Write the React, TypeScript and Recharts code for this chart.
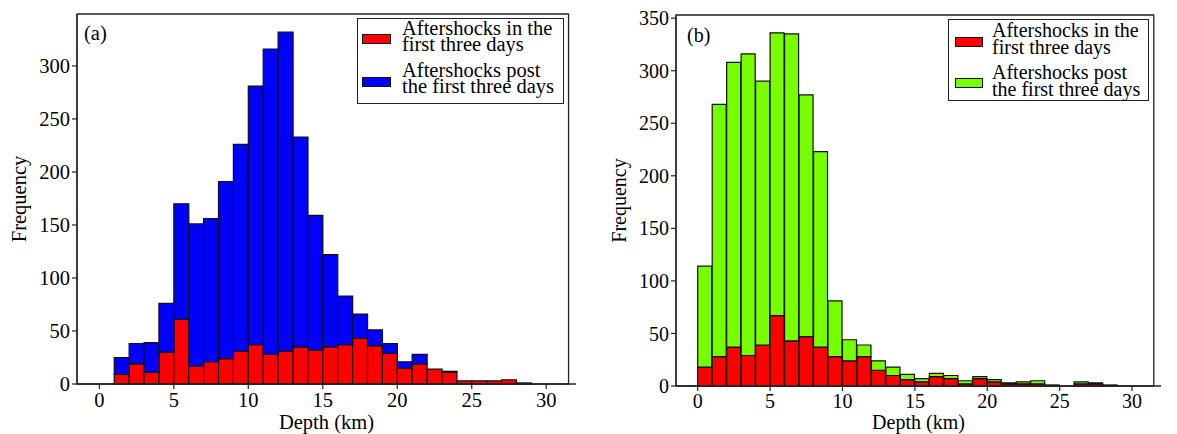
import React from 'react';
import { BarChart, Bar, XAxis, YAxis, ReferenceArea, Legend } from 'recharts';

// Depth bin centres (km), 1 km bins from 0 to 30
const depthCenters = [0.5, 1.5, 2.5, 3.5, 4.5, 5.5, 6.5, 7.5, 8.5, 9.5, 10.5, 11.5, 12.5, 13.5, 14.5, 15.5, 16.5, 17.5, 18.5, 19.5, 20.5, 21.5, 22.5, 23.5, 24.5, 25.5, 26.5, 27.5, 28.5, 29.5];
const depthTicks = [0, 5, 10, 15, 20, 25, 30];

// Panel (a)
const panelAFirstThreeDays = [0, 9, 19, 11, 30, 61, 17, 21, 24, 31, 37, 28, 31, 35, 32, 35, 37, 43, 36, 29, 15, 19, 14, 11, 3, 3, 3, 4, 1, 0];
const panelATotal = [0, 25, 38, 39, 76, 170, 151, 156, 191, 226, 281, 316, 332, 233, 159, 122, 83, 66, 51, 38, 21, 28, 14, 12, 3, 3, 3, 4, 1, 0];
const panelAFreqTicks = [0, 50, 100, 150, 200, 250, 300];

// Panel (b)
const panelBFirstThreeDays = [18, 28, 37, 29, 39, 67, 43, 47, 37, 28, 24, 28, 15, 10, 6, 4, 9, 7, 2, 7, 4, 2, 2, 2, 1, 0, 2, 2, 1, 0];
const panelBTotal = [114, 268, 308, 316, 290, 336, 335, 277, 223, 81, 44, 39, 24, 18, 11, 7, 12, 10, 5, 9, 6, 3, 4, 5, 1, 0, 4, 3, 1, 0];
const panelBFreqTicks = [0, 50, 100, 150, 200, 250, 300, 350];

const seriesFirstName = 'Aftershocks in the\nfirst three days';
const seriesPostName = 'Aftershocks post\nthe first three days';

const FONT = '"Liberation Serif", "Times New Roman", serif';

function buildRows(first: number[], total: number[]) {
  return depthCenters.map((d, i) => ({ depth: d, first: first[i], post: total[i] - first[i] }));
}

type Cfg = {
  left: number; width: number; height: number;
  margin: { top: number; right: number; bottom: number; left: number };
  xAxisHeight: number; yAxisWidth: number;
  fs: number; yMax: number; yTicks: number[];
  postColor: string; panelLabel: string; panelDx: number; panelDy: number;
  yLabelDx: number; xLabelOffset: number;
  legend: { left: number; top: number; w: number; h: number; lh: number; swLeft: number; swW: number; swH: number; swTops: number[]; txLeft: number; txTops: number[] };
};

const colors: Record<string, string> = {};

function Panel({ cfg, rows }: { cfg: Cfg; rows: any[] }) {
  const lg = cfg.legend;
  const legendContent = (props: any) => {
    const payload = (props.payload || []).slice();
    const order = [seriesFirstName, seriesPostName];
    payload.sort((a: any, b: any) => order.indexOf(a.value) - order.indexOf(b.value));
    return (
      <div style={{ position: 'relative', width: lg.w, height: lg.h, border: '1.3px solid #222', background: '#fff', boxSizing: 'border-box', fontFamily: FONT, fontSize: cfg.fs, lineHeight: lg.lh + 'px', color: '#000' }}>
        {payload.map((p: any, i: number) => (
          <React.Fragment key={i}>
            <div style={{ position: 'absolute', left: lg.swLeft, top: lg.swTops[i], width: lg.swW, height: lg.swH, background: p.value === seriesFirstName ? '#FF0000' : cfg.postColor, border: '1.2px solid #111', boxSizing: 'border-box' }} />
            <div style={{ position: 'absolute', left: lg.txLeft, top: lg.txTops[i], whiteSpace: 'pre' }}>{p.value}</div>
          </React.Fragment>
        ))}
      </div>
    );
  };
  const yLabel = (props: any) => {
    const vb = props.viewBox || {};
    const cx = vb.x + cfg.yLabelDx;
    const cy = vb.y + vb.height / 2;
    return (
      <text x={cx} y={cy} transform={`rotate(-90 ${cx} ${cy})`} textAnchor="middle" fontSize={cfg.fs} fontFamily={FONT} fill="#000">Frequency</text>
    );
  };
  const panelLabel = (props: any) => {
    const vb = props.viewBox || {};
    return (
      <text x={vb.x + cfg.panelDx} y={vb.y + cfg.panelDy} fontSize={cfg.fs} fontFamily={FONT} fill="#000">{cfg.panelLabel}</text>
    );
  };
  const tickStyle = { fontSize: cfg.fs, fill: '#000', fontFamily: FONT };
  return (
    <div style={{ position: 'absolute', left: cfg.left, top: 0, width: cfg.width, height: cfg.height }}>
      <BarChart width={cfg.width} height={cfg.height} data={rows} margin={cfg.margin} barCategoryGap={0} barGap={0}>
        <XAxis
          dataKey="depth"
          type="number"
          domain={[-1.5, 31.5]}
          ticks={depthTicks}
          allowDecimals={false}
          height={cfg.xAxisHeight}
          tick={tickStyle}
          tickSize={5}
          tickMargin={3}
          axisLine={{ stroke: '#222', strokeWidth: 1.3 }}
          tickLine={{ stroke: '#222', strokeWidth: 1.2 }}
          label={{ value: 'Depth (km)', position: 'insideBottom', offset: cfg.xLabelOffset, fontSize: cfg.fs, fill: '#000', fontFamily: FONT }}
        />
        <YAxis
          type="number"
          domain={[0, cfg.yMax]}
          ticks={cfg.yTicks}
          width={cfg.yAxisWidth}
          tick={tickStyle}
          tickSize={5}
          tickMargin={2}
          axisLine={{ stroke: '#222', strokeWidth: 1.3 }}
          tickLine={{ stroke: '#222', strokeWidth: 1.2 }}
          label={{ content: yLabel }}
        />
        <Legend
          layout="horizontal"
          verticalAlign="middle"
          align="center"
          content={legendContent}
          wrapperStyle={{ left: lg.left, top: lg.top, width: 'auto', height: 'auto' }}
        />
        <Bar dataKey="first" name={seriesFirstName} stackId="h" fill="#FF0000" stroke="#111" strokeWidth={1.2} isAnimationActive={false} />
        <Bar dataKey="post" name={seriesPostName} stackId="h" fill={cfg.postColor} stroke="#111" strokeWidth={1.2} isAnimationActive={false} />
        <ReferenceArea x1={-1.5} x2={31.5} y1={0} y2={cfg.yMax} fill="none" fillOpacity={0} stroke="#222" strokeWidth={1.3} label={{ content: panelLabel }} />
      </BarChart>
    </div>
  );
}

const cfgA: Cfg = {
  left: 0, width: 590, height: 434,
  margin: { top: 14, right: 14, bottom: 2, left: 17 },
  xAxisHeight: 48, yAxisWidth: 60,
  fs: 20.5, yMax: 349, yTicks: panelAFreqTicks,
  postColor: '#0000FF', panelLabel: '(a)', panelDx: 7, panelDy: 26,
  yLabelDx: 9, xLabelOffset: 3,
  legend: { left: 357, top: 18, w: 207, h: 86, lh: 16.7, swLeft: 4, swW: 29, swH: 10, swTops: [15, 58], txLeft: 44, txTops: [0.5, 42.5] },
};

const cfgB: Cfg = {
  left: 600, width: 577, height: 434,
  margin: { top: 15, right: 16, bottom: 2, left: 16 },
  xAxisHeight: 46, yAxisWidth: 60,
  fs: 20, yMax: 353, yTicks: panelBFreqTicks,
  postColor: '#77FF00', panelLabel: '(b)', panelDx: 11, panelDy: 27,
  yLabelDx: 10, xLabelOffset: 3,
  legend: { left: 348, top: 19, w: 201, h: 82, lh: 16.5, swLeft: 6, swW: 28, swH: 10, swTops: [17, 58], txLeft: 43, txTops: [2, 44] },
};

export default function App() {
  const rowsA = buildRows(panelAFirstThreeDays, panelATotal);
  const rowsB = buildRows(panelBFirstThreeDays, panelBTotal);
  return (
    <div style={{ position: 'absolute', left: 0, top: 0, width: 1177, height: 434, background: '#fff', fontFamily: FONT }}>
      <Panel cfg={cfgA} rows={rowsA} />
      <Panel cfg={cfgB} rows={rowsB} />
    </div>
  );
}
